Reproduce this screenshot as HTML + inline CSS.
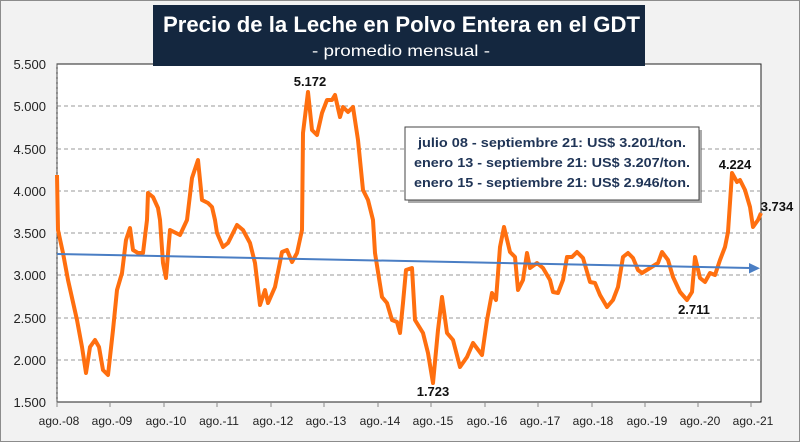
<!DOCTYPE html>
<html><head><meta charset="utf-8"><style>
body{margin:0;width:800px;height:442px;overflow:hidden;background:#fff}
svg{display:block;font-family:"Liberation Sans",Calibri,sans-serif}
</style></head><body>
<svg width="800" height="442" viewBox="0 0 800 442">
<rect x="0.5" y="0.5" width="799" height="441" fill="#f2f2f2" stroke="#8c8c8c"/>
<rect x="57" y="64" width="704" height="338" fill="#fff" stroke="#222" stroke-width="1"/>
<g stroke="#999" stroke-dasharray="4,3" stroke-width="1">
<line x1="57" y1="106" x2="761" y2="106"/><line x1="57" y1="149" x2="761" y2="149"/>
<line x1="57" y1="191" x2="761" y2="191"/><line x1="57" y1="233" x2="761" y2="233"/>
<line x1="57" y1="275" x2="761" y2="275"/><line x1="57" y1="318" x2="761" y2="318"/>
<line x1="57" y1="360" x2="761" y2="360"/>
</g>
<line x1="57" y1="64" x2="57" y2="402" stroke="#555" stroke-dasharray="3,2"/>
<g stroke="#888"><line x1="57" y1="402" x2="57" y2="407"/><line x1="110" y1="402" x2="110" y2="407"/><line x1="164" y1="402" x2="164" y2="407"/><line x1="217" y1="402" x2="217" y2="407"/><line x1="271" y1="402" x2="271" y2="407"/><line x1="324" y1="402" x2="324" y2="407"/><line x1="378" y1="402" x2="378" y2="407"/><line x1="431" y1="402" x2="431" y2="407"/><line x1="485" y1="402" x2="485" y2="407"/><line x1="538" y1="402" x2="538" y2="407"/><line x1="592" y1="402" x2="592" y2="407"/><line x1="645" y1="402" x2="645" y2="407"/><line x1="698" y1="402" x2="698" y2="407"/><line x1="751" y1="402" x2="751" y2="407"/></g>
<g font-size="13" fill="#222" text-anchor="end">
<text x="46" y="69">5.500</text><text x="46" y="111">5.000</text><text x="46" y="154">4.500</text><text x="46" y="196">4.000</text><text x="46" y="238">3.500</text><text x="46" y="280">3.000</text><text x="46" y="323">2.500</text><text x="46" y="365">2.000</text><text x="46" y="407">1.500</text>
</g>
<g font-size="12" fill="#222" text-anchor="middle">
<text x="59" y="425">ago.-08</text><text x="112" y="425">ago.-09</text><text x="166" y="425">ago.-10</text><text x="219" y="425">ago.-11</text><text x="273" y="425">ago.-12</text><text x="326" y="425">ago.-13</text><text x="380" y="425">ago.-14</text><text x="433" y="425">ago.-15</text><text x="487" y="425">ago.-16</text><text x="540" y="425">ago.-17</text><text x="593" y="425">ago.-18</text><text x="647" y="425">ago.-19</text><text x="700" y="425">ago.-20</text><text x="753" y="425">ago.-21</text>
</g>
<polyline fill="none" stroke="#ff6f0f" stroke-width="4" stroke-linejoin="round" points="57,175 58,230 63,253 68,280 77,320 82,347 86,373 90,347 95,340 99,347 103,370 108,375 113,330 117,290 122,273 126,240 130,228 133,250 138,253 143,253 147,220 148,193 153,197 158,208 160,220 163,263 166,278 170,230 180,235 187,220 192,178 198,160 202,200 208,203 212,207 215,220 217,233 223,247 228,243 237,225 243,230 250,243 255,263 260,305 265,290 268,303 275,287 282,252 287,250 292,262 297,253 302,230 303,133 308,92 312,130 317,135 322,113 327,100 332,100 335,95 340,117 343,107 348,112 353,107 358,140 363,190 368,200 373,220 375,253 382,297 387,303 392,320 397,322 400,333 403,303 406,270 412,268 415,320 423,333 428,353 433,383 438,330 442,297 447,333 453,340 460,367 467,357 473,343 482,355 487,320 492,293 496,300 500,247 504,227 510,252 515,257 518,290 523,280 527,253 530,268 537,263 543,268 550,280 553,292 558,293 563,280 567,257 572,257 577,252 583,258 590,282 595,283 600,295 607,307 613,300 618,287 623,257 628,253 633,258 638,270 642,273 650,268 658,263 662,252 668,260 673,277 680,292 687,300 692,292 695,257 700,278 705,282 710,273 715,275 720,260 725,247 728,232 732,173 737,182 740,180 745,190 750,207 753,227 758,220 761,213"/>
<line x1="57" y1="254" x2="750" y2="268" stroke="#4a7ec4" stroke-width="2"/>
<polygon points="760,268.2 749,263 749,273.5" fill="#4a7ec4"/>
<g font-size="13" font-weight="bold" fill="#111" text-anchor="middle">
<text x="310" y="86">5.172</text><text x="433" y="396">1.723</text><text x="694" y="314">2.711</text><text x="735" y="169">4.224</text><text x="777" y="211">3.734</text>
</g>
<rect x="153" y="5" width="492" height="61" fill="#14273f"/>
<text x="163" y="32" font-size="22" font-weight="bold" fill="#fff" textLength="477" lengthAdjust="spacingAndGlyphs">Precio de la Leche en Polvo Entera en el GDT</text>
<text x="312" y="56" font-size="16" fill="#fff" textLength="178" lengthAdjust="spacingAndGlyphs">- promedio mensual -</text>
<rect x="408" y="130" width="294" height="73" fill="#555" opacity="0.5"/>
<rect x="405" y="127" width="294" height="73" fill="#fff" stroke="#444" stroke-width="1"/>
<g font-size="13" font-weight="bold" fill="#1f3456">
<text x="418" y="147" textLength="268" lengthAdjust="spacingAndGlyphs">julio 08 - septiembre 21: US$ 3.201/ton.</text>
<text x="414" y="167" textLength="276" lengthAdjust="spacingAndGlyphs">enero 13 - septiembre 21: US$ 3.207/ton.</text>
<text x="414" y="187" textLength="276" lengthAdjust="spacingAndGlyphs">enero 15 - septiembre 21: US$ 2.946/ton.</text>
</g>
</svg>
</body></html>
